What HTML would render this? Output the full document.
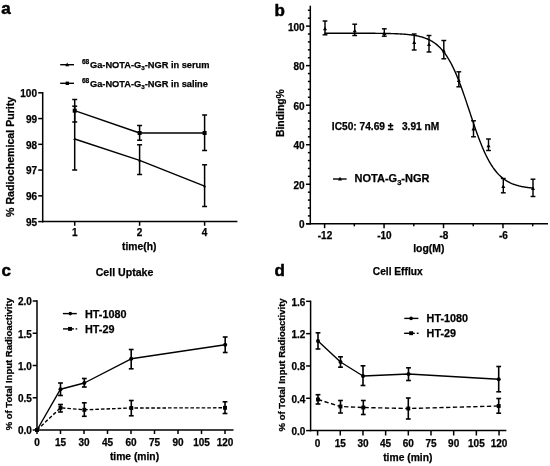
<!DOCTYPE html>
<html><head><meta charset="utf-8"><title>Figure</title>
<style>
html,body{margin:0;padding:0;background:#fff;}
body{width:550px;height:466px;overflow:hidden;}
svg{display:block;font-family:"Liberation Sans", sans-serif;font-weight:bold;will-change:transform;filter:blur(0.3px);}
text{stroke:#000;stroke-width:0.25px;}
</style></head>
<body>
<svg width="550" height="466" viewBox="0 0 550 466">
<rect width="550" height="466" fill="#fff"/>
<g font-family='"Liberation Sans", sans-serif' font-weight="bold" fill="#000">
<text x="1.20" y="13.50" font-size="17" text-anchor="start" style="stroke-width:0.5px">a</text>
<text x="274.60" y="15.60" font-size="17" text-anchor="start" style="stroke-width:0.5px">b</text>
<text x="1.50" y="276.30" font-size="17" text-anchor="start" style="stroke-width:0.5px">c</text>
<text x="274.50" y="276.30" font-size="17" text-anchor="start" style="stroke-width:0.5px">d</text>
<line x1="42.70" y1="92.05" x2="42.70" y2="222.35" stroke="#000" stroke-width="1.5" />
<line x1="41.95" y1="221.60" x2="237.40" y2="221.60" stroke="#000" stroke-width="1.5" />
<line x1="38.20" y1="221.60" x2="42.70" y2="221.60" stroke="#000" stroke-width="1.5" />
<text x="37.00" y="226.00" font-size="10" text-anchor="end" >95</text>
<line x1="38.20" y1="195.84" x2="42.70" y2="195.84" stroke="#000" stroke-width="1.5" />
<text x="37.00" y="200.24" font-size="10" text-anchor="end" >96</text>
<line x1="38.20" y1="170.08" x2="42.70" y2="170.08" stroke="#000" stroke-width="1.5" />
<text x="37.00" y="174.48" font-size="10" text-anchor="end" >97</text>
<line x1="38.20" y1="144.32" x2="42.70" y2="144.32" stroke="#000" stroke-width="1.5" />
<text x="37.00" y="148.72" font-size="10" text-anchor="end" >98</text>
<line x1="38.20" y1="118.56" x2="42.70" y2="118.56" stroke="#000" stroke-width="1.5" />
<text x="37.00" y="122.96" font-size="10" text-anchor="end" >99</text>
<line x1="38.20" y1="92.80" x2="42.70" y2="92.80" stroke="#000" stroke-width="1.5" />
<text x="37.00" y="97.20" font-size="10" text-anchor="end" >100</text>
<line x1="74.70" y1="221.60" x2="74.70" y2="225.80" stroke="#000" stroke-width="1.5" />
<text x="74.70" y="235.60" font-size="10" text-anchor="middle" >1</text>
<line x1="139.60" y1="221.60" x2="139.60" y2="225.80" stroke="#000" stroke-width="1.5" />
<text x="139.60" y="235.60" font-size="10" text-anchor="middle" >2</text>
<line x1="204.60" y1="221.60" x2="204.60" y2="225.80" stroke="#000" stroke-width="1.5" />
<text x="204.60" y="235.60" font-size="10" text-anchor="middle" >4</text>
<text x="139.20" y="250.10" font-size="10.3" text-anchor="middle" >time(h)</text>
<text transform="translate(13.60,156.90) rotate(-90)" x="0" y="0" font-size="10.6" text-anchor="middle">% Radiochemical Purity</text>
<line x1="74.70" y1="106.20" x2="74.70" y2="170.00" stroke="#000" stroke-width="1.5" />
<line x1="72.20" y1="106.20" x2="77.20" y2="106.20" stroke="#000" stroke-width="1.5" />
<line x1="72.20" y1="170.00" x2="77.20" y2="170.00" stroke="#000" stroke-width="1.5" />
<line x1="139.60" y1="144.80" x2="139.60" y2="174.50" stroke="#000" stroke-width="1.5" />
<line x1="137.10" y1="144.80" x2="142.10" y2="144.80" stroke="#000" stroke-width="1.5" />
<line x1="137.10" y1="174.50" x2="142.10" y2="174.50" stroke="#000" stroke-width="1.5" />
<line x1="204.60" y1="164.80" x2="204.60" y2="206.50" stroke="#000" stroke-width="1.5" />
<line x1="202.10" y1="164.80" x2="207.10" y2="164.80" stroke="#000" stroke-width="1.5" />
<line x1="202.10" y1="206.50" x2="207.10" y2="206.50" stroke="#000" stroke-width="1.5" />
<line x1="74.70" y1="99.50" x2="74.70" y2="122.00" stroke="#000" stroke-width="1.5" />
<line x1="72.20" y1="99.50" x2="77.20" y2="99.50" stroke="#000" stroke-width="1.5" />
<line x1="72.20" y1="122.00" x2="77.20" y2="122.00" stroke="#000" stroke-width="1.5" />
<line x1="139.60" y1="125.50" x2="139.60" y2="140.20" stroke="#000" stroke-width="1.5" />
<line x1="137.10" y1="125.50" x2="142.10" y2="125.50" stroke="#000" stroke-width="1.5" />
<line x1="137.10" y1="140.20" x2="142.10" y2="140.20" stroke="#000" stroke-width="1.5" />
<line x1="204.60" y1="115.00" x2="204.60" y2="150.50" stroke="#000" stroke-width="1.5" />
<line x1="202.10" y1="115.00" x2="207.10" y2="115.00" stroke="#000" stroke-width="1.5" />
<line x1="202.10" y1="150.50" x2="207.10" y2="150.50" stroke="#000" stroke-width="1.5" />
<polyline points="74.70,139.00 139.60,160.30 204.60,186.20" fill="none" stroke="#000" stroke-width="1.4" stroke-linejoin="round"/>
<polyline points="74.70,110.70 139.60,133.00 204.60,133.00" fill="none" stroke="#000" stroke-width="1.4" stroke-linejoin="round"/>
<polygon points="74.70,137.38 73.20,140.08 76.20,140.08" fill="#000"/>
<polygon points="139.60,158.68 138.10,161.38 141.10,161.38" fill="#000"/>
<polygon points="204.60,184.58 203.10,187.28 206.10,187.28" fill="#000"/>
<rect x="72.70" y="108.70" width="4.0" height="4.0" fill="#000"/>
<rect x="137.60" y="131.00" width="4.0" height="4.0" fill="#000"/>
<rect x="202.60" y="131.00" width="4.0" height="4.0" fill="#000"/>
<line x1="60.20" y1="64.70" x2="74.00" y2="64.70" stroke="#000" stroke-width="1.4" />
<polygon points="67.20,62.54 65.20,66.14 69.20,66.14" fill="#000"/>
<line x1="60.20" y1="83.30" x2="74.00" y2="83.30" stroke="#000" stroke-width="1.4" />
<rect x="65.60" y="81.60" width="3.4" height="3.4" fill="#000"/>
<text x="81.9" y="64.40" font-size="6.6">68</text>
<text x="90.0" y="68.00" font-size="9.25">Ga-NOTA-G<tspan font-size="6.2" dy="2.2">3</tspan><tspan dy="-2.2">-NGR in serum</tspan></text>
<text x="81.9" y="83.10" font-size="6.6">68</text>
<text x="90.0" y="86.70" font-size="9.25">Ga-NOTA-G<tspan font-size="6.2" dy="2.2">3</tspan><tspan dy="-2.2">-NGR in saline</tspan></text>
<line x1="310.30" y1="5.70" x2="310.30" y2="224.55" stroke="#000" stroke-width="1.5" />
<line x1="306.20" y1="223.80" x2="548.00" y2="223.80" stroke="#000" stroke-width="1.5" />
<line x1="306.00" y1="223.80" x2="310.30" y2="223.80" stroke="#000" stroke-width="1.5" />
<text x="304.60" y="228.20" font-size="10" text-anchor="end" >0</text>
<line x1="307.90" y1="215.89" x2="310.30" y2="215.89" stroke="#000" stroke-width="1.5" />
<line x1="307.90" y1="207.98" x2="310.30" y2="207.98" stroke="#000" stroke-width="1.5" />
<line x1="307.90" y1="200.08" x2="310.30" y2="200.08" stroke="#000" stroke-width="1.5" />
<line x1="307.90" y1="192.17" x2="310.30" y2="192.17" stroke="#000" stroke-width="1.5" />
<line x1="306.00" y1="184.26" x2="310.30" y2="184.26" stroke="#000" stroke-width="1.5" />
<text x="304.60" y="188.66" font-size="10" text-anchor="end" >20</text>
<line x1="307.90" y1="176.35" x2="310.30" y2="176.35" stroke="#000" stroke-width="1.5" />
<line x1="307.90" y1="168.44" x2="310.30" y2="168.44" stroke="#000" stroke-width="1.5" />
<line x1="307.90" y1="160.54" x2="310.30" y2="160.54" stroke="#000" stroke-width="1.5" />
<line x1="307.90" y1="152.63" x2="310.30" y2="152.63" stroke="#000" stroke-width="1.5" />
<line x1="306.00" y1="144.72" x2="310.30" y2="144.72" stroke="#000" stroke-width="1.5" />
<text x="304.60" y="149.12" font-size="10" text-anchor="end" >40</text>
<line x1="307.90" y1="136.81" x2="310.30" y2="136.81" stroke="#000" stroke-width="1.5" />
<line x1="307.90" y1="128.90" x2="310.30" y2="128.90" stroke="#000" stroke-width="1.5" />
<line x1="307.90" y1="121.00" x2="310.30" y2="121.00" stroke="#000" stroke-width="1.5" />
<line x1="307.90" y1="113.09" x2="310.30" y2="113.09" stroke="#000" stroke-width="1.5" />
<line x1="306.00" y1="105.18" x2="310.30" y2="105.18" stroke="#000" stroke-width="1.5" />
<text x="304.60" y="109.58" font-size="10" text-anchor="end" >60</text>
<line x1="307.90" y1="97.27" x2="310.30" y2="97.27" stroke="#000" stroke-width="1.5" />
<line x1="307.90" y1="89.36" x2="310.30" y2="89.36" stroke="#000" stroke-width="1.5" />
<line x1="307.90" y1="81.46" x2="310.30" y2="81.46" stroke="#000" stroke-width="1.5" />
<line x1="307.90" y1="73.55" x2="310.30" y2="73.55" stroke="#000" stroke-width="1.5" />
<line x1="306.00" y1="65.64" x2="310.30" y2="65.64" stroke="#000" stroke-width="1.5" />
<text x="304.60" y="70.04" font-size="10" text-anchor="end" >80</text>
<line x1="307.90" y1="57.73" x2="310.30" y2="57.73" stroke="#000" stroke-width="1.5" />
<line x1="307.90" y1="49.82" x2="310.30" y2="49.82" stroke="#000" stroke-width="1.5" />
<line x1="307.90" y1="41.92" x2="310.30" y2="41.92" stroke="#000" stroke-width="1.5" />
<line x1="307.90" y1="34.01" x2="310.30" y2="34.01" stroke="#000" stroke-width="1.5" />
<line x1="306.00" y1="26.10" x2="310.30" y2="26.10" stroke="#000" stroke-width="1.5" />
<text x="304.60" y="30.50" font-size="10" text-anchor="end" >100</text>
<line x1="307.90" y1="18.19" x2="310.30" y2="18.19" stroke="#000" stroke-width="1.5" />
<line x1="307.90" y1="10.28" x2="310.30" y2="10.28" stroke="#000" stroke-width="1.5" />
<line x1="324.60" y1="223.80" x2="324.60" y2="228.20" stroke="#000" stroke-width="1.5" />
<text x="325.00" y="238.90" font-size="10" text-anchor="middle" >-12</text>
<line x1="354.33" y1="223.80" x2="354.33" y2="226.30" stroke="#000" stroke-width="1.5" />
<line x1="384.06" y1="223.80" x2="384.06" y2="228.20" stroke="#000" stroke-width="1.5" />
<text x="384.46" y="238.90" font-size="10" text-anchor="middle" >-10</text>
<line x1="413.79" y1="223.80" x2="413.79" y2="226.30" stroke="#000" stroke-width="1.5" />
<line x1="443.52" y1="223.80" x2="443.52" y2="228.20" stroke="#000" stroke-width="1.5" />
<text x="443.92" y="238.90" font-size="10" text-anchor="middle" >-8</text>
<line x1="473.25" y1="223.80" x2="473.25" y2="226.30" stroke="#000" stroke-width="1.5" />
<line x1="502.98" y1="223.80" x2="502.98" y2="228.20" stroke="#000" stroke-width="1.5" />
<text x="503.38" y="238.90" font-size="10" text-anchor="middle" >-6</text>
<line x1="532.71" y1="223.80" x2="532.71" y2="226.30" stroke="#000" stroke-width="1.5" />
<text x="428.80" y="252.30" font-size="10.4" text-anchor="middle" >log(M)</text>
<text transform="translate(284.40,113.10) rotate(-90)" x="0" y="0" font-size="10.4" text-anchor="middle">Binding%</text>
<line x1="325.00" y1="21.00" x2="325.00" y2="34.80" stroke="#000" stroke-width="1.45" />
<line x1="322.60" y1="21.00" x2="327.40" y2="21.00" stroke="#000" stroke-width="1.45" />
<line x1="322.60" y1="34.80" x2="327.40" y2="34.80" stroke="#000" stroke-width="1.45" />
<polygon points="325.00,26.64 323.00,30.24 327.00,30.24" fill="#000"/>
<line x1="354.70" y1="24.20" x2="354.70" y2="35.50" stroke="#000" stroke-width="1.45" />
<line x1="352.30" y1="24.20" x2="357.10" y2="24.20" stroke="#000" stroke-width="1.45" />
<line x1="352.30" y1="35.50" x2="357.10" y2="35.50" stroke="#000" stroke-width="1.45" />
<polygon points="354.70,28.64 352.70,32.24 356.70,32.24" fill="#000"/>
<line x1="384.30" y1="28.80" x2="384.30" y2="36.20" stroke="#000" stroke-width="1.45" />
<line x1="381.90" y1="28.80" x2="386.70" y2="28.80" stroke="#000" stroke-width="1.45" />
<line x1="381.90" y1="36.20" x2="386.70" y2="36.20" stroke="#000" stroke-width="1.45" />
<polygon points="384.30,31.34 382.30,34.94 386.30,34.94" fill="#000"/>
<line x1="414.20" y1="34.00" x2="414.20" y2="50.00" stroke="#000" stroke-width="1.45" />
<line x1="411.80" y1="34.00" x2="416.60" y2="34.00" stroke="#000" stroke-width="1.45" />
<line x1="411.80" y1="50.00" x2="416.60" y2="50.00" stroke="#000" stroke-width="1.45" />
<polygon points="414.20,40.34 412.20,43.94 416.20,43.94" fill="#000"/>
<line x1="429.00" y1="35.50" x2="429.00" y2="52.00" stroke="#000" stroke-width="1.45" />
<line x1="426.60" y1="35.50" x2="431.40" y2="35.50" stroke="#000" stroke-width="1.45" />
<line x1="426.60" y1="52.00" x2="431.40" y2="52.00" stroke="#000" stroke-width="1.45" />
<polygon points="429.00,42.34 427.00,45.94 431.00,45.94" fill="#000"/>
<line x1="443.80" y1="40.50" x2="443.80" y2="58.80" stroke="#000" stroke-width="1.45" />
<line x1="441.40" y1="40.50" x2="446.20" y2="40.50" stroke="#000" stroke-width="1.45" />
<line x1="441.40" y1="58.80" x2="446.20" y2="58.80" stroke="#000" stroke-width="1.45" />
<polygon points="443.80,48.84 441.80,52.44 445.80,52.44" fill="#000"/>
<line x1="458.80" y1="71.80" x2="458.80" y2="86.80" stroke="#000" stroke-width="1.45" />
<line x1="456.40" y1="71.80" x2="461.20" y2="71.80" stroke="#000" stroke-width="1.45" />
<line x1="456.40" y1="86.80" x2="461.20" y2="86.80" stroke="#000" stroke-width="1.45" />
<polygon points="458.80,78.34 456.80,81.94 460.80,81.94" fill="#000"/>
<line x1="473.50" y1="120.80" x2="473.50" y2="136.80" stroke="#000" stroke-width="1.45" />
<line x1="471.10" y1="120.80" x2="475.90" y2="120.80" stroke="#000" stroke-width="1.45" />
<line x1="471.10" y1="136.80" x2="475.90" y2="136.80" stroke="#000" stroke-width="1.45" />
<polygon points="473.50,126.84 471.50,130.44 475.50,130.44" fill="#000"/>
<line x1="488.50" y1="139.00" x2="488.50" y2="150.50" stroke="#000" stroke-width="1.45" />
<line x1="486.10" y1="139.00" x2="490.90" y2="139.00" stroke="#000" stroke-width="1.45" />
<line x1="486.10" y1="150.50" x2="490.90" y2="150.50" stroke="#000" stroke-width="1.45" />
<polygon points="488.50,143.64 486.50,147.24 490.50,147.24" fill="#000"/>
<line x1="503.30" y1="178.50" x2="503.30" y2="192.80" stroke="#000" stroke-width="1.45" />
<line x1="500.90" y1="178.50" x2="505.70" y2="178.50" stroke="#000" stroke-width="1.45" />
<line x1="500.90" y1="192.80" x2="505.70" y2="192.80" stroke="#000" stroke-width="1.45" />
<polygon points="503.30,184.34 501.30,187.94 505.30,187.94" fill="#000"/>
<line x1="533.00" y1="179.20" x2="533.00" y2="196.50" stroke="#000" stroke-width="1.45" />
<line x1="530.60" y1="179.20" x2="535.40" y2="179.20" stroke="#000" stroke-width="1.45" />
<line x1="530.60" y1="196.50" x2="535.40" y2="196.50" stroke="#000" stroke-width="1.45" />
<polygon points="533.00,186.34 531.00,189.94 535.00,189.94" fill="#000"/>
<polyline points="324.60,33.22 325.19,33.22 325.79,33.22 326.38,33.22 326.98,33.22 327.57,33.22 328.17,33.22 328.76,33.22 329.36,33.22 329.95,33.22 330.55,33.22 331.14,33.22 331.74,33.22 332.33,33.22 332.92,33.22 333.52,33.22 334.11,33.22 334.71,33.22 335.30,33.22 335.90,33.22 336.49,33.22 337.09,33.22 337.68,33.22 338.28,33.22 338.87,33.22 339.46,33.22 340.06,33.22 340.65,33.22 341.25,33.22 341.84,33.23 342.44,33.23 343.03,33.23 343.63,33.23 344.22,33.23 344.82,33.23 345.41,33.23 346.01,33.23 346.60,33.23 347.19,33.23 347.79,33.23 348.38,33.23 348.98,33.23 349.57,33.23 350.17,33.23 350.76,33.23 351.36,33.23 351.95,33.23 352.55,33.24 353.14,33.24 353.74,33.24 354.33,33.24 354.92,33.24 355.52,33.24 356.11,33.24 356.71,33.24 357.30,33.24 357.90,33.24 358.49,33.25 359.09,33.25 359.68,33.25 360.28,33.25 360.87,33.25 361.47,33.25 362.06,33.26 362.65,33.26 363.25,33.26 363.84,33.26 364.44,33.26 365.03,33.27 365.63,33.27 366.22,33.27 366.82,33.27 367.41,33.27 368.01,33.28 368.60,33.28 369.19,33.28 369.79,33.29 370.38,33.29 370.98,33.29 371.57,33.30 372.17,33.30 372.76,33.30 373.36,33.31 373.95,33.31 374.55,33.32 375.14,33.32 375.74,33.33 376.33,33.33 376.92,33.34 377.52,33.34 378.11,33.35 378.71,33.36 379.30,33.36 379.90,33.37 380.49,33.38 381.09,33.38 381.68,33.39 382.28,33.40 382.87,33.41 383.47,33.42 384.06,33.43 384.65,33.44 385.25,33.45 385.84,33.46 386.44,33.47 387.03,33.48 387.63,33.49 388.22,33.51 388.82,33.52 389.41,33.53 390.01,33.55 390.60,33.56 391.20,33.58 391.79,33.60 392.38,33.61 392.98,33.63 393.57,33.65 394.17,33.67 394.76,33.69 395.36,33.72 395.95,33.74 396.55,33.76 397.14,33.79 397.74,33.82 398.33,33.85 398.92,33.88 399.52,33.91 400.11,33.94 400.71,33.97 401.30,34.01 401.90,34.04 402.49,34.08 403.09,34.12 403.68,34.17 404.28,34.21 404.87,34.26 405.47,34.31 406.06,34.36 406.65,34.41 407.25,34.47 407.84,34.52 408.44,34.59 409.03,34.65 409.63,34.72 410.22,34.79 410.82,34.86 411.41,34.94 412.01,35.02 412.60,35.10 413.20,35.19 413.79,35.28 414.38,35.38 414.98,35.48 415.57,35.58 416.17,35.69 416.76,35.80 417.36,35.92 417.95,36.05 418.55,36.18 419.14,36.32 419.74,36.46 420.33,36.61 420.93,36.77 421.52,36.93 422.11,37.10 422.71,37.28 423.30,37.46 423.90,37.66 424.49,37.86 425.09,38.07 425.68,38.30 426.28,38.53 426.87,38.77 427.47,39.02 428.06,39.28 428.65,39.56 429.25,39.84 429.84,40.14 430.44,40.45 431.03,40.78 431.63,41.12 432.22,41.47 432.82,41.84 433.41,42.22 434.01,42.62 434.60,43.03 435.20,43.46 435.79,43.91 436.38,44.38 436.98,44.87 437.57,45.37 438.17,45.90 438.76,46.45 439.36,47.02 439.95,47.61 440.55,48.22 441.14,48.86 441.74,49.52 442.33,50.20 442.93,50.91 443.52,51.65 444.11,52.41 444.71,53.20 445.30,54.01 445.90,54.86 446.49,55.73 447.09,56.63 447.68,57.56 448.28,58.52 448.87,59.51 449.47,60.54 450.06,61.59 450.66,62.67 451.25,63.79 451.84,64.94 452.44,66.12 453.03,67.33 453.63,68.57 454.22,69.85 454.82,71.15 455.41,72.49 456.01,73.86 456.60,75.26 457.20,76.69 457.79,78.15 458.38,79.63 458.98,81.15 459.57,82.69 460.17,84.26 460.76,85.86 461.36,87.47 461.95,89.11 462.55,90.78 463.14,92.46 463.74,94.16 464.33,95.88 464.93,97.61 465.52,99.36 466.11,101.12 466.71,102.89 467.30,104.67 467.90,106.46 468.49,108.25 469.09,110.04 469.68,111.84 470.28,113.63 470.87,115.43 471.47,117.21 472.06,119.00 472.66,120.77 473.25,122.53 473.84,124.28 474.44,126.02 475.03,127.75 475.63,129.45 476.22,131.14 476.82,132.81 477.41,134.46 478.01,136.08 478.60,137.68 479.20,139.26 479.79,140.81 480.39,142.33 480.98,143.83 481.57,145.30 482.17,146.73 482.76,148.14 483.36,149.52 483.95,150.87 484.55,152.18 485.14,153.47 485.74,154.72 486.33,155.94 486.93,157.13 487.52,158.29 488.11,159.41 488.71,160.51 489.30,161.57 489.90,162.60 490.49,163.60 491.09,164.57 491.68,165.51 492.28,166.42 492.87,167.31 493.47,168.16 494.06,168.98 494.66,169.78 495.25,170.55 495.84,171.29 496.44,172.01 497.03,172.70 497.63,173.37 498.22,174.01 498.82,174.63 499.41,175.23 500.01,175.80 500.60,176.36 501.20,176.89 501.79,177.40 502.39,177.89 502.98,178.37 503.57,178.82 504.17,179.26 504.76,179.68 505.36,180.08 505.95,180.47 506.55,180.84 507.14,181.20 507.74,181.54 508.33,181.87 508.93,182.19 509.52,182.49 510.12,182.78 510.71,183.06 511.30,183.32 511.90,183.58 512.49,183.82 513.09,184.06 513.68,184.28 514.28,184.50 514.87,184.70 515.47,184.90 516.06,185.09 516.66,185.27 517.25,185.44 517.84,185.61 518.44,185.76 519.03,185.92 519.63,186.06 520.22,186.20 520.82,186.33 521.41,186.46 522.01,186.58 522.60,186.70 523.20,186.81 523.79,186.91 524.39,187.01 524.98,187.11 525.57,187.21 526.17,187.29 526.76,187.38 527.36,187.46 527.95,187.54 528.55,187.61 529.14,187.68 529.74,187.75 530.33,187.82 530.93,187.88 531.52,187.94 532.12,187.99 532.71,188.05" fill="none" stroke="#000" stroke-width="1.4" stroke-linejoin="round"/>
<line x1="333.00" y1="179.00" x2="346.60" y2="179.00" stroke="#000" stroke-width="1.4" />
<polygon points="340.00,176.84 338.00,180.44 342.00,180.44" fill="#000"/>
<text x="354.6" y="182.2" font-size="11">NOTA-G<tspan font-size="7.5" dy="2.6">3</tspan><tspan dy="-2.6">-NGR</tspan></text>
<text x="331.80" y="129.90" font-size="10.2" text-anchor="start" xml:space="preserve">IC50: 74.69 ±   3.91 nM</text>
<line x1="37.00" y1="300.25" x2="37.00" y2="430.75" stroke="#000" stroke-width="1.5" />
<line x1="37.00" y1="430.00" x2="233.50" y2="430.00" stroke="#000" stroke-width="1.5" />
<line x1="32.70" y1="430.00" x2="37.00" y2="430.00" stroke="#000" stroke-width="1.5" />
<text x="31.90" y="434.40" font-size="10" text-anchor="end" >0.0</text>
<line x1="32.70" y1="397.75" x2="37.00" y2="397.75" stroke="#000" stroke-width="1.5" />
<text x="31.90" y="402.15" font-size="10" text-anchor="end" >0.5</text>
<line x1="32.70" y1="365.50" x2="37.00" y2="365.50" stroke="#000" stroke-width="1.5" />
<text x="31.90" y="369.90" font-size="10" text-anchor="end" >1.0</text>
<line x1="32.70" y1="333.25" x2="37.00" y2="333.25" stroke="#000" stroke-width="1.5" />
<text x="31.90" y="337.65" font-size="10" text-anchor="end" >1.5</text>
<line x1="32.70" y1="301.00" x2="37.00" y2="301.00" stroke="#000" stroke-width="1.5" />
<text x="31.90" y="305.40" font-size="10" text-anchor="end" >2.0</text>
<line x1="37.00" y1="430.00" x2="37.00" y2="434.00" stroke="#000" stroke-width="1.5" />
<text x="37.00" y="445.60" font-size="10" text-anchor="middle" >0</text>
<line x1="60.50" y1="430.00" x2="60.50" y2="434.00" stroke="#000" stroke-width="1.5" />
<text x="60.50" y="445.60" font-size="10" text-anchor="middle" >15</text>
<line x1="84.00" y1="430.00" x2="84.00" y2="434.00" stroke="#000" stroke-width="1.5" />
<text x="84.00" y="445.60" font-size="10" text-anchor="middle" >30</text>
<line x1="107.50" y1="430.00" x2="107.50" y2="434.00" stroke="#000" stroke-width="1.5" />
<text x="107.50" y="445.60" font-size="10" text-anchor="middle" >45</text>
<line x1="131.00" y1="430.00" x2="131.00" y2="434.00" stroke="#000" stroke-width="1.5" />
<text x="131.00" y="445.60" font-size="10" text-anchor="middle" >60</text>
<line x1="154.50" y1="430.00" x2="154.50" y2="434.00" stroke="#000" stroke-width="1.5" />
<text x="154.50" y="445.60" font-size="10" text-anchor="middle" >75</text>
<line x1="178.00" y1="430.00" x2="178.00" y2="434.00" stroke="#000" stroke-width="1.5" />
<text x="178.00" y="445.60" font-size="10" text-anchor="middle" >90</text>
<line x1="201.50" y1="430.00" x2="201.50" y2="434.00" stroke="#000" stroke-width="1.5" />
<text x="201.50" y="445.60" font-size="10" text-anchor="middle" >105</text>
<line x1="225.00" y1="430.00" x2="225.00" y2="434.00" stroke="#000" stroke-width="1.5" />
<text x="225.00" y="445.60" font-size="10" text-anchor="middle" >120</text>
<text x="134.50" y="460.30" font-size="10.3" text-anchor="middle" >time (min)</text>
<text x="124.50" y="276.20" font-size="10.6" text-anchor="middle" >Cell Uptake</text>
<text transform="translate(11.60,364.20) rotate(-90)" x="0" y="0" font-size="9.5" text-anchor="middle">% of Total Input Radioactivity</text>
<line x1="60.50" y1="383.00" x2="60.50" y2="395.50" stroke="#000" stroke-width="1.6" />
<line x1="58.10" y1="383.00" x2="62.90" y2="383.00" stroke="#000" stroke-width="1.6" />
<line x1="58.10" y1="395.50" x2="62.90" y2="395.50" stroke="#000" stroke-width="1.6" />
<line x1="84.30" y1="378.50" x2="84.30" y2="387.00" stroke="#000" stroke-width="1.6" />
<line x1="81.90" y1="378.50" x2="86.70" y2="378.50" stroke="#000" stroke-width="1.6" />
<line x1="81.90" y1="387.00" x2="86.70" y2="387.00" stroke="#000" stroke-width="1.6" />
<line x1="131.20" y1="349.50" x2="131.20" y2="368.80" stroke="#000" stroke-width="1.6" />
<line x1="128.80" y1="349.50" x2="133.60" y2="349.50" stroke="#000" stroke-width="1.6" />
<line x1="128.80" y1="368.80" x2="133.60" y2="368.80" stroke="#000" stroke-width="1.6" />
<line x1="225.20" y1="337.00" x2="225.20" y2="352.50" stroke="#000" stroke-width="1.6" />
<line x1="222.80" y1="337.00" x2="227.60" y2="337.00" stroke="#000" stroke-width="1.6" />
<line x1="222.80" y1="352.50" x2="227.60" y2="352.50" stroke="#000" stroke-width="1.6" />
<line x1="60.50" y1="404.50" x2="60.50" y2="412.00" stroke="#000" stroke-width="1.6" />
<line x1="58.10" y1="404.50" x2="62.90" y2="404.50" stroke="#000" stroke-width="1.6" />
<line x1="58.10" y1="412.00" x2="62.90" y2="412.00" stroke="#000" stroke-width="1.6" />
<line x1="84.30" y1="402.80" x2="84.30" y2="416.30" stroke="#000" stroke-width="1.6" />
<line x1="81.90" y1="402.80" x2="86.70" y2="402.80" stroke="#000" stroke-width="1.6" />
<line x1="81.90" y1="416.30" x2="86.70" y2="416.30" stroke="#000" stroke-width="1.6" />
<line x1="131.30" y1="400.50" x2="131.30" y2="415.80" stroke="#000" stroke-width="1.6" />
<line x1="128.90" y1="400.50" x2="133.70" y2="400.50" stroke="#000" stroke-width="1.6" />
<line x1="128.90" y1="415.80" x2="133.70" y2="415.80" stroke="#000" stroke-width="1.6" />
<line x1="225.00" y1="401.80" x2="225.00" y2="413.50" stroke="#000" stroke-width="1.6" />
<line x1="222.60" y1="401.80" x2="227.40" y2="401.80" stroke="#000" stroke-width="1.6" />
<line x1="222.60" y1="413.50" x2="227.40" y2="413.50" stroke="#000" stroke-width="1.6" />
<polyline points="37.00,430.00 60.50,389.20 84.30,383.00 131.20,358.80 225.20,344.80" fill="none" stroke="#000" stroke-width="1.4" stroke-linejoin="round"/>
<polyline points="37.00,430.00 60.50,407.80 84.30,409.80 131.30,408.00 225.00,407.80" fill="none" stroke="#000" stroke-width="1.4" stroke-linejoin="round" stroke-dasharray="3.6 2"/>
<circle cx="37.00" cy="430.00" r="2.0" fill="#000"/>
<circle cx="60.50" cy="389.20" r="2.0" fill="#000"/>
<circle cx="84.30" cy="383.00" r="2.0" fill="#000"/>
<circle cx="131.20" cy="358.80" r="2.0" fill="#000"/>
<circle cx="225.20" cy="344.80" r="2.0" fill="#000"/>
<rect x="35.05" y="428.05" width="3.9" height="3.9" fill="#000"/>
<rect x="58.55" y="405.85" width="3.9" height="3.9" fill="#000"/>
<rect x="82.35" y="407.85" width="3.9" height="3.9" fill="#000"/>
<rect x="129.35" y="406.05" width="3.9" height="3.9" fill="#000"/>
<rect x="223.05" y="405.85" width="3.9" height="3.9" fill="#000"/>
<line x1="62.90" y1="313.60" x2="76.80" y2="313.60" stroke="#000" stroke-width="1.4" />
<circle cx="70.30" cy="313.60" r="1.8" fill="#000"/>
<line x1="63.00" y1="328.90" x2="73.90" y2="328.90" stroke="#000" stroke-width="1.4" />
<line x1="75.60" y1="328.90" x2="77.20" y2="328.90" stroke="#000" stroke-width="1.4" />
<rect x="68.05" y="326.95" width="3.9" height="3.9" fill="#000"/>
<text x="85.00" y="317.70" font-size="10.8" text-anchor="start" >HT-1080</text>
<text x="85.00" y="332.60" font-size="10.8" text-anchor="start" >HT-29</text>
<line x1="310.60" y1="300.65" x2="310.60" y2="431.35" stroke="#000" stroke-width="1.5" />
<line x1="310.60" y1="430.60" x2="506.40" y2="430.60" stroke="#000" stroke-width="1.5" />
<line x1="306.10" y1="430.60" x2="310.60" y2="430.60" stroke="#000" stroke-width="1.5" />
<text x="305.40" y="435.00" font-size="10" text-anchor="end" >0.0</text>
<line x1="306.10" y1="398.28" x2="310.60" y2="398.28" stroke="#000" stroke-width="1.5" />
<text x="305.40" y="402.68" font-size="10" text-anchor="end" >0.4</text>
<line x1="306.10" y1="365.96" x2="310.60" y2="365.96" stroke="#000" stroke-width="1.5" />
<text x="305.40" y="370.36" font-size="10" text-anchor="end" >0.8</text>
<line x1="306.10" y1="333.64" x2="310.60" y2="333.64" stroke="#000" stroke-width="1.5" />
<text x="305.40" y="338.04" font-size="10" text-anchor="end" >1.2</text>
<line x1="306.10" y1="301.32" x2="310.60" y2="301.32" stroke="#000" stroke-width="1.5" />
<text x="305.40" y="305.72" font-size="10" text-anchor="end" >1.6</text>
<line x1="317.60" y1="430.60" x2="317.60" y2="435.50" stroke="#000" stroke-width="1.5" />
<text x="317.60" y="446.90" font-size="10" text-anchor="middle" >0</text>
<line x1="340.28" y1="430.60" x2="340.28" y2="435.50" stroke="#000" stroke-width="1.5" />
<text x="340.28" y="446.90" font-size="10" text-anchor="middle" >15</text>
<line x1="362.96" y1="430.60" x2="362.96" y2="435.50" stroke="#000" stroke-width="1.5" />
<text x="362.96" y="446.90" font-size="10" text-anchor="middle" >30</text>
<line x1="385.64" y1="430.60" x2="385.64" y2="435.50" stroke="#000" stroke-width="1.5" />
<text x="385.64" y="446.90" font-size="10" text-anchor="middle" >45</text>
<line x1="408.32" y1="430.60" x2="408.32" y2="435.50" stroke="#000" stroke-width="1.5" />
<text x="408.32" y="446.90" font-size="10" text-anchor="middle" >60</text>
<line x1="431.00" y1="430.60" x2="431.00" y2="435.50" stroke="#000" stroke-width="1.5" />
<text x="431.00" y="446.90" font-size="10" text-anchor="middle" >75</text>
<line x1="453.68" y1="430.60" x2="453.68" y2="435.50" stroke="#000" stroke-width="1.5" />
<text x="453.68" y="446.90" font-size="10" text-anchor="middle" >90</text>
<line x1="476.36" y1="430.60" x2="476.36" y2="435.50" stroke="#000" stroke-width="1.5" />
<text x="476.36" y="446.90" font-size="10" text-anchor="middle" >105</text>
<line x1="499.04" y1="430.60" x2="499.04" y2="435.50" stroke="#000" stroke-width="1.5" />
<text x="499.04" y="446.90" font-size="10" text-anchor="middle" >120</text>
<text x="407.80" y="460.50" font-size="10.3" text-anchor="middle" >time (min)</text>
<text x="397.70" y="274.80" font-size="10.2" text-anchor="middle" >Cell Efflux</text>
<text transform="translate(284.50,364.90) rotate(-90)" x="0" y="0" font-size="9.57" text-anchor="middle">% of Total Input Radioactivity</text>
<line x1="318.00" y1="332.80" x2="318.00" y2="349.00" stroke="#000" stroke-width="1.6" />
<line x1="315.60" y1="332.80" x2="320.40" y2="332.80" stroke="#000" stroke-width="1.6" />
<line x1="315.60" y1="349.00" x2="320.40" y2="349.00" stroke="#000" stroke-width="1.6" />
<line x1="340.50" y1="356.80" x2="340.50" y2="367.20" stroke="#000" stroke-width="1.6" />
<line x1="338.10" y1="356.80" x2="342.90" y2="356.80" stroke="#000" stroke-width="1.6" />
<line x1="338.10" y1="367.20" x2="342.90" y2="367.20" stroke="#000" stroke-width="1.6" />
<line x1="363.00" y1="365.80" x2="363.00" y2="385.50" stroke="#000" stroke-width="1.6" />
<line x1="360.60" y1="365.80" x2="365.40" y2="365.80" stroke="#000" stroke-width="1.6" />
<line x1="360.60" y1="385.50" x2="365.40" y2="385.50" stroke="#000" stroke-width="1.6" />
<line x1="408.50" y1="367.80" x2="408.50" y2="380.50" stroke="#000" stroke-width="1.6" />
<line x1="406.10" y1="367.80" x2="410.90" y2="367.80" stroke="#000" stroke-width="1.6" />
<line x1="406.10" y1="380.50" x2="410.90" y2="380.50" stroke="#000" stroke-width="1.6" />
<line x1="498.70" y1="366.50" x2="498.70" y2="391.80" stroke="#000" stroke-width="1.6" />
<line x1="496.30" y1="366.50" x2="501.10" y2="366.50" stroke="#000" stroke-width="1.6" />
<line x1="496.30" y1="391.80" x2="501.10" y2="391.80" stroke="#000" stroke-width="1.6" />
<line x1="318.00" y1="394.70" x2="318.00" y2="404.00" stroke="#000" stroke-width="1.6" />
<line x1="315.60" y1="394.70" x2="320.40" y2="394.70" stroke="#000" stroke-width="1.6" />
<line x1="315.60" y1="404.00" x2="320.40" y2="404.00" stroke="#000" stroke-width="1.6" />
<line x1="340.50" y1="400.50" x2="340.50" y2="413.00" stroke="#000" stroke-width="1.6" />
<line x1="338.10" y1="400.50" x2="342.90" y2="400.50" stroke="#000" stroke-width="1.6" />
<line x1="338.10" y1="413.00" x2="342.90" y2="413.00" stroke="#000" stroke-width="1.6" />
<line x1="363.30" y1="400.50" x2="363.30" y2="414.50" stroke="#000" stroke-width="1.6" />
<line x1="360.90" y1="400.50" x2="365.70" y2="400.50" stroke="#000" stroke-width="1.6" />
<line x1="360.90" y1="414.50" x2="365.70" y2="414.50" stroke="#000" stroke-width="1.6" />
<line x1="408.30" y1="398.00" x2="408.30" y2="419.00" stroke="#000" stroke-width="1.6" />
<line x1="405.90" y1="398.00" x2="410.70" y2="398.00" stroke="#000" stroke-width="1.6" />
<line x1="405.90" y1="419.00" x2="410.70" y2="419.00" stroke="#000" stroke-width="1.6" />
<line x1="498.70" y1="398.50" x2="498.70" y2="413.20" stroke="#000" stroke-width="1.6" />
<line x1="496.30" y1="398.50" x2="501.10" y2="398.50" stroke="#000" stroke-width="1.6" />
<line x1="496.30" y1="413.20" x2="501.10" y2="413.20" stroke="#000" stroke-width="1.6" />
<polyline points="318.00,341.00 340.50,362.00 363.00,376.00 408.50,374.00 498.70,379.30" fill="none" stroke="#000" stroke-width="1.4" stroke-linejoin="round"/>
<polyline points="318.00,399.50 340.50,406.50 363.30,407.50 408.30,408.50 498.70,406.00" fill="none" stroke="#000" stroke-width="1.4" stroke-linejoin="round" stroke-dasharray="4.3 2.5"/>
<circle cx="318.00" cy="341.00" r="2.0" fill="#000"/>
<circle cx="340.50" cy="362.00" r="2.0" fill="#000"/>
<circle cx="363.00" cy="376.00" r="2.0" fill="#000"/>
<circle cx="408.50" cy="374.00" r="2.0" fill="#000"/>
<circle cx="498.70" cy="379.30" r="2.0" fill="#000"/>
<rect x="316.05" y="397.55" width="3.9" height="3.9" fill="#000"/>
<rect x="338.55" y="404.55" width="3.9" height="3.9" fill="#000"/>
<rect x="361.35" y="405.55" width="3.9" height="3.9" fill="#000"/>
<rect x="406.35" y="406.55" width="3.9" height="3.9" fill="#000"/>
<rect x="496.75" y="404.05" width="3.9" height="3.9" fill="#000"/>
<line x1="404.30" y1="318.40" x2="418.40" y2="318.40" stroke="#000" stroke-width="1.4" />
<circle cx="411.10" cy="318.40" r="1.8" fill="#000"/>
<line x1="404.10" y1="333.30" x2="414.80" y2="333.30" stroke="#000" stroke-width="1.4" />
<line x1="416.80" y1="333.30" x2="418.60" y2="333.30" stroke="#000" stroke-width="1.4" />
<rect x="409.20" y="331.25" width="3.9" height="3.9" fill="#000"/>
<text x="426.60" y="321.80" font-size="10.8" text-anchor="start" >HT-1080</text>
<text x="426.60" y="336.60" font-size="10.8" text-anchor="start" >HT-29</text>
</g>
</svg>
</body></html>
